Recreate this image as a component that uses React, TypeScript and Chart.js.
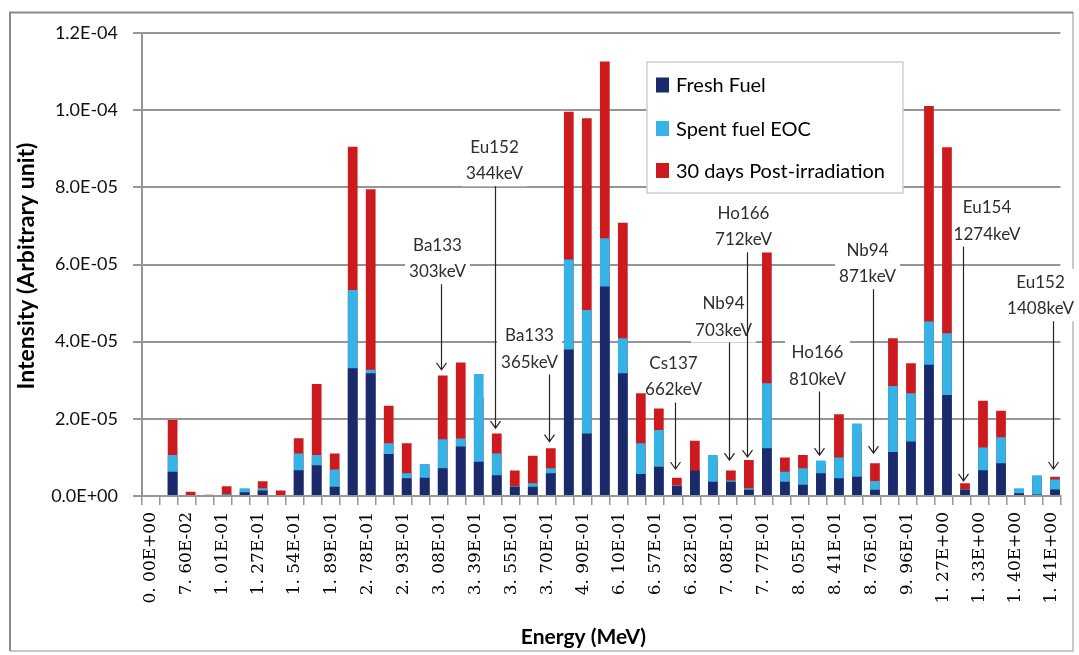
import React, { useEffect, useRef } from "react";
import { Chart, registerables } from "chart.js";

Chart.register(...registerables);

// ---------------- DATA ----------------
const energyLabels: string[] = [
  "0. 00E+00", "", "7. 60E-02", "", "1. 01E-01", "", "1. 27E-01", "", "1. 54E-01", "",
  "1. 89E-01", "", "2. 78E-01", "", "2. 93E-01", "", "3. 08E-01", "", "3. 39E-01", "",
  "3. 55E-01", "", "3. 70E-01", "", "4. 90E-01", "", "6. 10E-01", "", "6. 57E-01", "",
  "6. 82E-01", "", "7. 08E-01", "", "7. 77E-01", "", "8. 05E-01", "", "8. 41E-01", "",
  "8. 76E-01", "", "9. 96E-01", "", "1. 27E+00", "", "1. 33E+00", "", "1. 40E+00", "",
  "1. 41E+00",
];

// values in units of 1E-05
const freshFuel: number[] = [
  0, 0.63, 0, 0, 0.03, 0.1, 0.14, 0, 0.67, 0.8,
  0.24, 3.31, 3.18, 1.09, 0.46, 0.47, 0.72, 1.28, 0.89, 0.54,
  0.24, 0.24, 0.59, 3.8, 1.62, 5.43, 3.18, 0.57, 0.76, 0.26,
  0.66, 0.37, 0.37, 0.16, 1.24, 0.37, 0.29, 0.59, 0.46, 0.5,
  0.16, 1.14, 1.41, 3.4, 2.62, 0.16, 0.67, 0.85, 0.07, 0.04,
  0.17,
];
const spentFuelEOC: number[] = [
  0, 1.06, 0, 0, 0.05, 0.2, 0.2, 0, 1.1, 1.06,
  0.69, 5.34, 3.27, 1.37, 0.59, 0.83, 1.47, 1.49, 3.16, 1.1,
  0.25, 0.33, 0.72, 6.13, 4.82, 6.68, 4.09, 1.37, 1.71, 0.27,
  0.62, 1.06, 0.4, 0.2, 2.92, 0.63, 0.72, 0.92, 1.0, 1.88,
  0.39, 2.85, 2.66, 4.52, 4.22, 0.17, 1.26, 1.52, 0.2, 0.54,
  0.43,
];
const postIrradiation30d: number[] = [
  0, 1.97, 0.11, 0.03, 0.25, 0.18, 0.38, 0.14, 1.5, 2.9,
  1.1, 9.05, 7.95, 2.34, 1.37, 0.8, 3.12, 3.46, 2.54, 1.62,
  0.66, 1.04, 1.24, 9.96, 9.79, 11.26, 7.08, 2.66, 2.27, 0.47,
  1.43, 1.0, 0.66, 0.93, 6.31, 1.0, 1.06, 0.85, 2.12, 1.67,
  0.85, 4.09, 3.44, 10.11, 9.04, 0.33, 2.47, 2.21, 0.18, 0.5,
  0.5,
];
const VALUE_UNIT = 1e-5;

const seriesNames = ["Fresh Fuel", "Spent fuel EOC", "30 days Post-irradiation"];
const seriesColors = ["#1b2a6b", "#36b3e6", "#cc1a1f"];

const yMin = 0;
const yMax = 1.2e-4;
const yStep = 2e-5;

const xTitle = "Energy (MeV)";
const yTitle = "Intensity (Arbitrary unit)";

// annotations (peak identification)
const annIndex = [16, 19, 22, 29, 32, 33, 37, 40, 45, 50];
const annNuclide = ["Ba133", "Eu152", "Ba133", "Cs137", "Nb94", "Ho166", "Ho166", "Nb94", "Eu154", "Eu152"];
const annEnergy = ["303keV", "344keV", "365keV", "662keV", "703keV", "712keV", "810keV", "871keV", "1274keV", "1408keV"];
const annTextValue = [6.51, 9.05, 4.17, 3.45, 5.0, 7.34, 3.73, 6.38, 7.49, 5.55];
const annTipValue = [3.27, 1.76, 1.41, 0.7, 0.93, 1.01, 1.06, 1.11, 0.39, 0.7];
const annTextDx = [-4, -1, -20, -2, -6, -4, -2, -6, 23.5, -13];

// ---------------- STYLE ----------------
const GRID = "#969696";
const FONT = "Lato";

function sci(v: number): string {
  if (Math.abs(v) < 1e-12) return "0.0E+00";
  const [m, e] = v.toExponential(1).split("e");
  const n = parseInt(e, 10);
  return `${m}E${n < 0 ? "-" : "+"}${String(Math.abs(n)).padStart(2, "0")}`;
}

const decorPlugin = {
  id: "decor",
  beforeDraw(chart: any) {
    const ctx = chart.ctx;
    ctx.save();
    ctx.fillStyle = "#ffffff";
    ctx.fillRect(0, 0, chart.width, chart.height);
    ctx.lineWidth = 2;
    ctx.strokeStyle = "#c8c8c8";
    ctx.beginPath();
    ctx.moveTo(1073, 12);
    ctx.lineTo(1073, 651);
    ctx.lineTo(10, 651);
    ctx.stroke();
    ctx.strokeStyle = "#8a8a8a";
    ctx.beginPath();
    ctx.moveTo(10, 651);
    ctx.lineTo(10, 12.5);
    ctx.lineTo(1073, 12.5);
    ctx.stroke();
    ctx.restore();
  },
  beforeDatasetsDraw(chart: any) {
    const ctx = chart.ctx;
    const ys = chart.scales.y;
    const meta = chart.getDatasetMeta(0);
    ctx.save();
    ctx.font = `17px ${FONT}`;
    annIndex.forEach((idx, i) => {
      const bar = meta.data[idx] as any;
      const ax = Math.round(bar.x - 2) + 0.5;
      const cx = ax + annTextDx[i];
      const y1 = ys.getPixelForValue(annTextValue[i] * VALUE_UNIT);
      const y2 = y1 + 26.5;
      const lines = [annNuclide[i], annEnergy[i]];
      const w = Math.max(...lines.map((t) => ctx.measureText(t).width));
      ctx.fillStyle = "#ffffff";
      ctx.fillRect(cx - w / 2 - 4, y1 - 13, w + 8, y2 - y1 + 26);
      ctx.fillStyle = "#2e2e2e";
      ctx.textAlign = "center";
      ctx.textBaseline = "alphabetic";
      ctx.fillText(lines[0], cx, y1 + 6);
      ctx.fillText(lines[1], cx, y2 + 6);
      const tipY = ys.getPixelForValue(annTipValue[i] * VALUE_UNIT);
      const startY = y2 + 13;
      ctx.strokeStyle = "#262626";
      ctx.lineWidth = 1.2;
      ctx.beginPath();
      ctx.moveTo(ax, startY);
      ctx.lineTo(ax, tipY);
      ctx.moveTo(ax - 5, tipY - 7);
      ctx.lineTo(ax, tipY);
      ctx.lineTo(ax + 5, tipY - 7);
      ctx.stroke();
    });
    ctx.restore();
  },
  afterDraw(chart: any) {
    const ctx = chart.ctx;
    ctx.save();
    // legend box
    const lx = 647, ly = 62, lw = 256, lh = 131;
    ctx.fillStyle = "#ffffff";
    ctx.fillRect(lx, ly, lw, lh);
    ctx.strokeStyle = "#cfcfcf";
    ctx.lineWidth = 1.5;
    ctx.strokeRect(lx, ly, lw, lh);
    const rows = [85, 128.5, 170.5];
    ctx.font = `20px ${FONT}`;
    ctx.textAlign = "left";
    ctx.textBaseline = "alphabetic";
    chart.data.datasets.slice(0, 3).forEach((ds: any, i: number) => {
      ctx.fillStyle = ds.backgroundColor;
      ctx.fillRect(656, rows[i] - 7.5, 13, 15);
      ctx.fillStyle = "#000000";
      ctx.fillText(ds.label, 676, rows[i] + 7);
    });
    // axis titles
    ctx.fillStyle = "#000000";
    ctx.font = `bold 21px ${FONT}`;
    ctx.textAlign = "center";
    ctx.textBaseline = "middle";
    ctx.fillText(xTitle, 583.5, 637);
    ctx.translate(27, 266);
    ctx.rotate(-Math.PI / 2);
    ctx.font = `bold 23px ${FONT}`;
    ctx.fillText(yTitle, 0, 0);
    ctx.restore();
  },
};

export default function App() {
  const ref = useRef<HTMLCanvasElement>(null);
  useEffect(() => {
    const canvas = ref.current;
    if (!canvas) return;
    const barCommon = {
      stack: "main",
      categoryPercentage: 0.8,
      barPercentage: 1.35,
      borderWidth: 0,
      order: 0,
    };
    const chart = new Chart(canvas, {
      type: "bar",
      data: {
        labels: energyLabels,
        datasets: [
          { ...barCommon, label: seriesNames[0], data: freshFuel.map((v) => v * VALUE_UNIT), backgroundColor: seriesColors[0] },
          { ...barCommon, label: seriesNames[1], data: spentFuelEOC.map((v) => v * VALUE_UNIT), backgroundColor: seriesColors[1] },
          { ...barCommon, label: seriesNames[2], data: postIrradiation30d.map((v) => v * VALUE_UNIT), backgroundColor: seriesColors[2] },
          {
            label: "",
            data: energyLabels.map(() => 0),
            backgroundColor: "rgba(0,0,0,0)",
            stack: "pad",
            order: -1,
            categoryPercentage: 0.8,
            barPercentage: 1.35,
            borderWidth: 0,
          },
        ],
      } as any,
      options: {
        responsive: false,
        animation: false,
        layout: { padding: { top: 33, right: 18, bottom: 6, left: 12 } },
        plugins: { legend: { display: false }, tooltip: { enabled: false } },
        scales: {
          x: {
            type: "category",
            offset: true,
            grid: {
              display: true,
              offset: true,
              drawOnChartArea: false,
              drawTicks: true,
              tickLength: 9,
              color: GRID,
              lineWidth: 1.5,
            },
            border: { display: true, color: GRID, width: 2 },
            ticks: {
              autoSkip: false,
              minRotation: 90,
              maxRotation: 90,
              padding: 7,
              color: "#000000",
              font: { family: "'DejaVu Serif'", size: 17 },
            },
            afterFit: (s: any) => {
              s.height = 153;
            },
          },
          y: {
            stacked: false,
            min: yMin,
            max: yMax,
            ticks: {
              stepSize: yStep,
              padding: 15,
              color: "#111111",
              font: { family: FONT, size: 18 },
              callback: (v: any) => sci(Number(v)),
            },
            grid: { color: GRID, lineWidth: 2, tickLength: 9, drawTicks: true },
            border: { display: true, color: GRID, width: 2 },
            afterFit: (s: any) => {
              s.width = 130;
            },
          },
        },
      } as any,
      plugins: [decorPlugin],
    });
    return () => chart.destroy();
  }, []);
  return (
    <div style={{ position: "absolute", left: 0, top: 0, width: 1079, height: 655, background: "#fff" }}>
      <canvas ref={ref} width={1079} height={655} style={{ display: "block" }} />
    </div>
  );
}
